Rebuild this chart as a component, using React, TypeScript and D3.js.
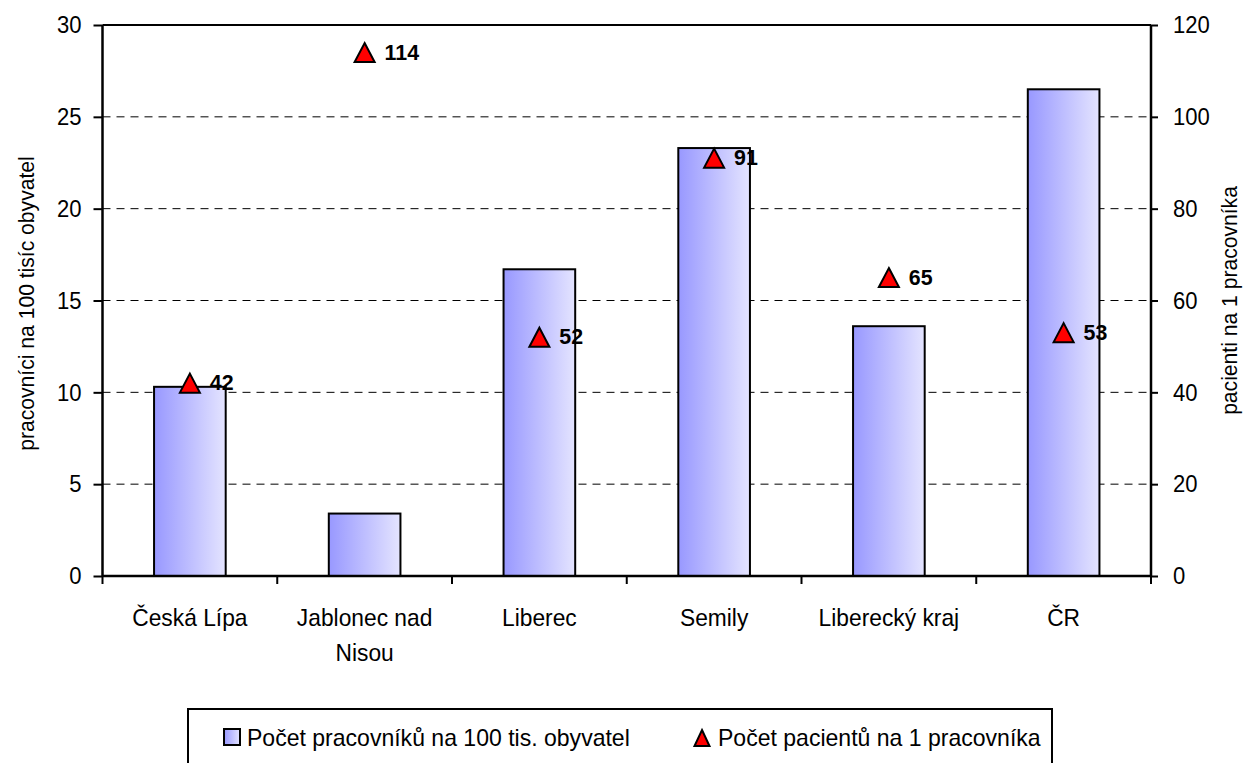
import {useEffect, useRef} from "react";
import * as d3 from 'd3'

const categories = [["Česká Lípa"], ["Jablonec nad", "Nisou"], ["Liberec"], ["Semily"], ["Liberecký kraj"], ["ČR"]]
const workers = [10.3, 3.4, 16.7, 23.3, 13.6, 26.5]
const patients = [42, 114, 52, 91, 65, 53]
const leftTicks = [0, 5, 10, 15, 20, 25, 30]
const rightTicks = [0, 20, 40, 60, 80, 100, 120]
const barName = "Počet pracovníků na 100 tis. obyvatel"
const pointName = "Počet pacientů na 1 pracovníka"

const FONT = "'Liberation Sans Narrow', 'Arial Narrow', 'Liberation Sans', Arial, sans-serif"

// squeeze text horizontally (no narrow font available)
const narrow = (sel: any, k: number) => {
    sel.each(function (this: SVGTextElement) {
        const t = d3.select(this)
        const x = +(t.attr("x") || 0)
        const tr = t.attr("transform") || ""
        t.attr("x", x / k).attr("transform", `${tr} scale(${k},1)`)
        t.selectAll("tspan").each(function (this: SVGTSpanElement) {
            const ts = d3.select(this)
            if (ts.attr("x") != null) ts.attr("x", +ts.attr("x") / k)
        })
    })
}

// triangle marker, w wide and h tall, centred on 0,0
const triPath = (w: number, h: number) => `M0,${-h / 2}L${w / 2},${h / 2}L${-w / 2},${h / 2}Z`

const App = () => {
    const svgRef = useRef<SVGSVGElement>(null)

    useEffect(() => {
        const svg = d3.select(svgRef.current)
        svg.selectAll("*").remove()

        const left = 102.5, right = 1151, top = 25, bottom = 576

        const x = d3.scaleBand<number>().domain(d3.range(categories.length)).range([left, right])
        const yL = d3.scaleLinear().domain([0, 30]).range([bottom, top])
        const yR = d3.scaleLinear().domain([0, 120]).range([bottom, top])

        const defs = svg.append("defs")
        const grad = defs.append("linearGradient").attr("id", "barGrad").attr("x1", "0%").attr("x2", "100%").attr("y1", "0%").attr("y2", "0%")
        grad.append("stop").attr("offset", "0%").attr("stop-color", "#9898ff")
        grad.append("stop").attr("offset", "100%").attr("stop-color", "#e4e4ff")

        // grid
        svg.append("g").selectAll("line").data(leftTicks.filter(t => t > 0 && t < 30)).join("line")
            .attr("x1", left).attr("x2", right)
            .attr("y1", d => yL(d)).attr("y2", d => yL(d))
            .attr("stroke", "#000").attr("stroke-width", 1).attr("stroke-dasharray", "8,6")
        svg.append("line").attr("x1", left).attr("x2", right).attr("y1", top).attr("y2", top)
            .attr("stroke", "#000").attr("stroke-width", 2)

        // bars
        const bw = x.bandwidth() * 0.41
        svg.append("g").selectAll("rect").data(workers).join("rect")
            .attr("x", (d, i) => x(i)! + x.bandwidth() / 2 - bw / 2)
            .attr("y", d => yL(d))
            .attr("width", bw)
            .attr("height", d => yL(0) - yL(d))
            .attr("fill", "url(#barGrad)")
            .attr("stroke", "#000").attr("stroke-width", 2)

        // axes
        const gl = svg.append("g").attr("transform", `translate(${left},0)`)
            .call(d3.axisLeft(yL).tickValues(leftTicks).tickSize(9).tickPadding(12))
        const gr = svg.append("g").attr("transform", `translate(${right},0)`)
            .call(d3.axisRight(yR).tickValues(rightTicks).tickSize(7).tickPadding(15))
        for (const g of [gl, gr]) {
            g.select(".domain").attr("stroke", "#000").attr("stroke-width", 2.5).attr("d", `M0,${top}V${bottom}`)
            g.selectAll(".tick line").attr("stroke", "#000").attr("stroke-width", 2)
            g.selectAll(".tick text").attr("font-family", FONT).attr("font-size", 24).attr("fill", "#000")
            narrow(g.selectAll(".tick text"), 0.92)
        }
        svg.append("line").attr("x1", left).attr("x2", right).attr("y1", bottom).attr("y2", bottom)
            .attr("stroke", "#000").attr("stroke-width", 2.5)

        // category boundary ticks
        svg.append("g").selectAll("line").data(d3.range(categories.length + 1)).join("line")
            .attr("x1", i => left + i * x.step()).attr("x2", i => left + i * x.step())
            .attr("y1", bottom).attr("y2", bottom + 8)
            .attr("stroke", "#000").attr("stroke-width", 2)

        // category labels
        const cl = svg.append("g").selectAll("text").data(categories).join("text")
            .attr("x", (d, i) => x(i)! + x.bandwidth() / 2)
            .attr("y", 626)
            .attr("text-anchor", "middle")
            .attr("font-family", FONT).attr("font-size", 24)
        cl.selectAll("tspan").data(d => d).join("tspan")
            .attr("x", function () { return (this.parentNode as SVGTextElement).getAttribute("x") })
            .attr("dy", (d, i) => i === 0 ? 0 : 35)
            .text(d => d)
        narrow(cl, 0.95)

        // triangles
        svg.append("g").selectAll("path").data(patients).join("path")
            .attr("transform", (d, i) => `translate(${x(i)! + x.bandwidth() / 2},${yR(d)})`)
            .attr("d", triPath(20, 19))
            .attr("fill", "#ff0000").attr("stroke", "#000").attr("stroke-width", 2).attr("stroke-linejoin", "miter")
        const dl = svg.append("g").selectAll("text").data(patients).join("text")
            .attr("x", (d, i) => x(i)! + x.bandwidth() / 2 + 20)
            .attr("y", d => yR(d) + 7)
            .attr("font-family", FONT).attr("font-size", 23).attr("font-weight", "bold")
            .text(d => d)
        narrow(dl, 0.93)

        // axis titles
        const t1 = svg.append("text").attr("transform", `translate(34,${(top + bottom) / 2 + 3}) rotate(-90)`)
            .attr("text-anchor", "middle").attr("font-family", FONT).attr("font-size", 22)
            .text("pracovníci na 100 tisíc obyvatel")
        const t2 = svg.append("text").attr("transform", `translate(1237,${(top + bottom) / 2}) rotate(-90)`)
            .attr("text-anchor", "middle").attr("font-family", FONT).attr("font-size", 22)
            .text("pacienti na 1 pracovníka")
        narrow(t1, 0.96)
        narrow(t2, 0.96)

        // legend
        const lg = svg.append("g")
        lg.append("rect").attr("x", 188).attr("y", 709).attr("width", 864).attr("height", 60)
            .attr("fill", "#fff").attr("stroke", "#000").attr("stroke-width", 2)
        lg.append("rect").attr("x", 224).attr("y", 729).attr("width", 16).attr("height", 16)
            .attr("fill", "url(#barGrad)").attr("stroke", "#000").attr("stroke-width", 2)
        const l1 = lg.append("text").attr("x", 247).attr("y", 746)
            .attr("font-family", FONT).attr("font-size", 24).text(barName)
        lg.append("path").attr("transform", "translate(702,738)").attr("d", triPath(15, 16))
            .attr("fill", "#ff0000").attr("stroke", "#000").attr("stroke-width", 2)
        const l2 = lg.append("text").attr("x", 718).attr("y", 746)
            .attr("font-family", FONT).attr("font-size", 24).text(pointName)
        narrow(l1, 0.96)
        narrow(l2, 0.96)
    }, [])

    return (
        <div style={{position: "absolute", left: 0, top: 0}}>
            <svg ref={svgRef} width={1245} height={763} style={{display: "block", background: "#fff"}}/>
        </div>
    )
}

export default App
